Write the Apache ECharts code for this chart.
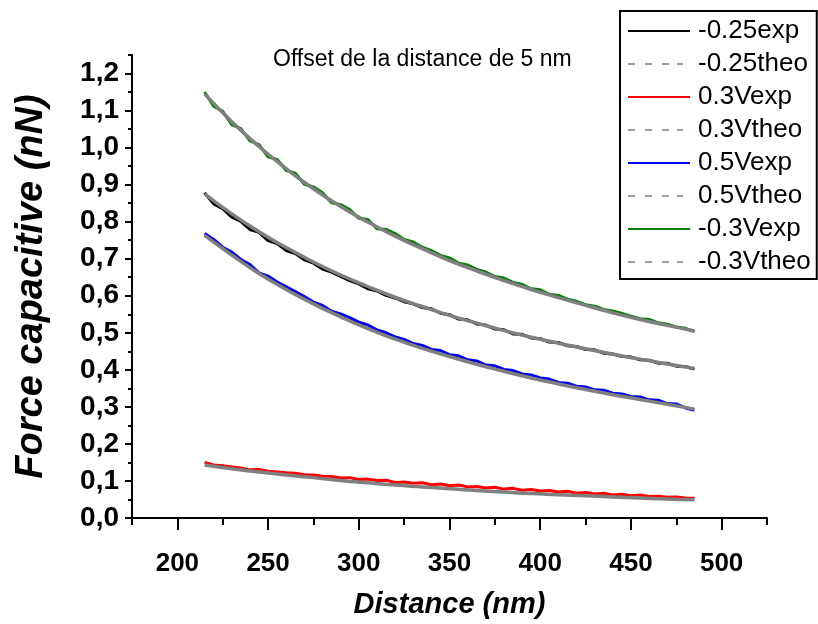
<!DOCTYPE html>
<html>
<head>
<meta charset="utf-8">
<script src="https://cdn.jsdelivr.net/npm/echarts@6/dist/echarts.min.js"></script>
<style>html,body{margin:0;padding:0;background:#fff}#c{width:818px;height:624px}</style>
</head>
<body>
<div id="c"></div>
<script>
// ---- data ----
const expDistance = [215,220,225,230,235,240,245,250,255,260,265,270,275,280,285,290,295,300,305,310,315,320,325,330,335,340,345,350,355,360,365,370,375,380,385,390,395,400,405,410,415,420,425,430,435,440,445,450,455,460,465,470,475,480,485];
const theoDistance = [215,230,245,260,275,290,305,320,335,350,365,380,395,410,425,440,455,470,485];

const m025exp = [0.878,0.848,0.835,0.812,0.801,0.779,0.771,0.749,0.741,0.722,0.714,0.697,0.688,0.672,0.664,0.652,0.641,0.632,0.619,0.613,0.601,0.594,0.584,0.578,0.568,0.565,0.553,0.549,0.537,0.535,0.524,0.521,0.510,0.508,0.497,0.496,0.486,0.484,0.475,0.474,0.465,0.463,0.455,0.454,0.445,0.443,0.436,0.435,0.427,0.426,0.418,0.418,0.410,0.409,0.402];
const m025theo = [0.875,0.821,0.773,0.730,0.691,0.656,0.625,0.596,0.571,0.547,0.526,0.506,0.488,0.472,0.457,0.442,0.429,0.416,0.404];

const p03exp = [0.150,0.143,0.141,0.138,0.135,0.130,0.131,0.126,0.124,0.122,0.121,0.117,0.116,0.113,0.112,0.108,0.109,0.104,0.105,0.101,0.102,0.096,0.097,0.094,0.095,0.090,0.092,0.087,0.089,0.084,0.085,0.081,0.083,0.078,0.080,0.075,0.077,0.073,0.074,0.070,0.072,0.067,0.069,0.065,0.067,0.062,0.064,0.060,0.062,0.058,0.059,0.056,0.057,0.054,0.053];
const p03theo = [0.143,0.133,0.124,0.116,0.109,0.1015,0.095,0.089,0.084,0.079,0.074,0.070,0.066,0.063,0.060,0.057,0.054,0.051,0.049];

const p05exp = [0.768,0.752,0.731,0.718,0.698,0.684,0.662,0.653,0.637,0.624,0.611,0.598,0.583,0.574,0.558,0.551,0.541,0.529,0.521,0.508,0.500,0.489,0.482,0.471,0.466,0.455,0.452,0.441,0.438,0.427,0.424,0.413,0.411,0.401,0.398,0.389,0.386,0.378,0.375,0.366,0.364,0.356,0.354,0.346,0.345,0.337,0.335,0.328,0.327,0.319,0.318,0.309,0.308,0.297,0.291];
const p05theo = [0.763,0.710,0.660,0.617,0.578,0.543,0.511,0.483,0.458,0.436,0.415,0.396,0.378,0.362,0.347,0.333,0.320,0.307,0.294];

const m03exp = [1.150,1.112,1.098,1.062,1.051,1.018,1.008,0.975,0.968,0.938,0.931,0.901,0.894,0.878,0.851,0.846,0.833,0.809,0.806,0.781,0.779,0.768,0.752,0.745,0.731,0.722,0.709,0.702,0.688,0.683,0.671,0.664,0.652,0.648,0.636,0.631,0.619,0.616,0.604,0.601,0.591,0.585,0.576,0.572,0.563,0.559,0.552,0.545,0.538,0.536,0.527,0.523,0.516,0.512,0.503];
const m03theo = [1.145,1.070,1.003,0.943,0.889,0.841,0.799,0.761,0.727,0.695,0.667,0.641,0.617,0.595,0.574,0.554,0.536,0.520,0.505];

const seriesNames = ['-0.25exp','-0.25theo','0.3Vexp','0.3Vtheo','0.5Vexp','0.5Vtheo','-0.3Vexp','-0.3Vtheo'];
const xMajorTicks = [200,250,300,350,400,450,500];
const xMinorTicks = [175,225,275,325,375,425,475,525];
const yMajorTicks = [0,0.1,0.2,0.3,0.4,0.5,0.6,0.7,0.8,0.9,1.0,1.1,1.2];
const yMinorTicks = [0.05,0.15,0.25,0.35,0.45,0.55,0.65,0.75,0.85,0.95,1.05,1.15,1.25];
const titleText = 'Offset de la distance de 5 nm';
const xTitle = 'Distance (nm)';
const yTitle = 'Force capacitive (nN)';

// ---- build ----
const FF = "'Liberation Sans', Arial, Helvetica, sans-serif";
const zip = (xs, ys) => xs.map((x, i) => [x, ys[i]]);
const expColors = ['#000000', '#ff0000', '#0000ff', '#008000'];
const expData = [m025exp, p03exp, p05exp, m03exp];
const theoData = [m025theo, p03theo, p05theo, m03theo];
const GREY = '#808080';
const SOLID_ICON = 'path://M0,0h62v2h-62z';
const DASH_ICON = 'path://M0,0h7v2h-7z M17,0h7v2h-7z M34,0h7v2h-7z M49,0h6v2h-6z M61.9,0h0.1v2h-0.1z';

const series = [];
for (let i = 0; i < 4; i++) {
  series.push({
    name: seriesNames[2*i], type: 'line', data: zip(expDistance, expData[i]),
    symbol: 'none', lineStyle: { color: expColors[i], width: 3 }, itemStyle: { color: expColors[i] },
    z: 2, animation: false
  });
}
for (let i = 0; i < 4; i++) {
  series.push({
    name: seriesNames[2*i+1], type: 'line', data: zip(theoDistance, theoData[i]),
    symbol: 'none', smooth: true, lineStyle: { color: GREY, width: 3.5 }, itemStyle: { color: GREY },
    z: 3, animation: false
  });
}
const legendItems = [];
for (let i = 0; i < 4; i++) {
  legendItems.push({ name: seriesNames[2*i], icon: SOLID_ICON, itemStyle: { color: expColors[i], borderWidth: 0 } });
  legendItems.push({ name: seriesNames[2*i+1], icon: DASH_ICON, itemStyle: { color: '#a0a0a0', borderWidth: 0 } });
}

const axisLineStyle = { color: '#000', width: 2 };
const option = {
  backgroundColor: '#fff',
  animation: false,
  title: {
    text: titleText, left: 268, top: 43,
    textStyle: { fontFamily: FF, fontSize: 23, fontWeight: 'normal', color: '#000' }
  },
  legend: {
    data: legendItems, orient: 'vertical', left: 620, top: 11,
    backgroundColor: '#fff', borderColor: '#000', borderWidth: 2,
    padding: [7, 6, 4, 8], itemWidth: 62, itemHeight: 2, itemGap: 7,
    textStyle: { fontFamily: FF, fontSize: 26, color: '#000', lineHeight: 26, padding: [0, 0, 0, 3] },
    selectedMode: false
  },
  grid: { left: 132, right: 51, top: 55, bottom: 103, containLabel: false },
  xAxis: [{
    type: 'value', min: 175, max: 525, position: 'bottom',
    axisLine: { show: true, onZero: false, lineStyle: axisLineStyle },
    axisTick: { show: true, customValues: xMajorTicks, length: 12, lineStyle: { color: '#000', width: 2 } },
    axisLabel: { customValues: xMajorTicks, margin: 33, fontFamily: FF, fontSize: 26, fontWeight: 'bold', color: '#000' },
    splitLine: { show: false },
    name: xTitle, nameLocation: 'middle', nameGap: 72,
    nameTextStyle: { fontFamily: FF, fontSize: 29, fontWeight: 'bold', fontStyle: 'italic', color: '#000' }
  }, {
    type: 'value', min: 175, max: 525, position: 'bottom',
    axisLine: { show: false },
    axisTick: { show: true, customValues: xMinorTicks, length: 7, lineStyle: { color: '#000', width: 2 } },
    axisLabel: { show: false }, splitLine: { show: false }
  }],
  yAxis: [{
    type: 'value', min: 0, max: 1.25, position: 'left',
    axisLine: { show: true, onZero: false, lineStyle: axisLineStyle },
    axisTick: { show: true, customValues: yMajorTicks, length: 7, lineStyle: { color: '#000', width: 2 } },
    axisLabel: {
      customValues: yMajorTicks, margin: 13, fontFamily: FF, fontSize: 28, fontWeight: 'bold', color: '#000',
      formatter: v => v.toFixed(1).replace('.', ',')
    },
    splitLine: { show: false },
    name: yTitle, nameLocation: 'middle', nameGap: 81,
    nameTextStyle: { fontFamily: FF, fontSize: 38, fontWeight: 'bold', fontStyle: 'italic', color: '#000' }
  }, {
    type: 'value', min: 0, max: 1.25, position: 'left',
    axisLine: { show: false },
    axisTick: { show: true, customValues: yMinorTicks, length: 4, lineStyle: { color: '#000', width: 2 } },
    axisLabel: { show: false }, splitLine: { show: false }
  }],
  series: series
};
const chart = echarts.init(document.getElementById('c'), null, { renderer: 'canvas' });
chart.setOption(option);
</script>
</body>
</html>
